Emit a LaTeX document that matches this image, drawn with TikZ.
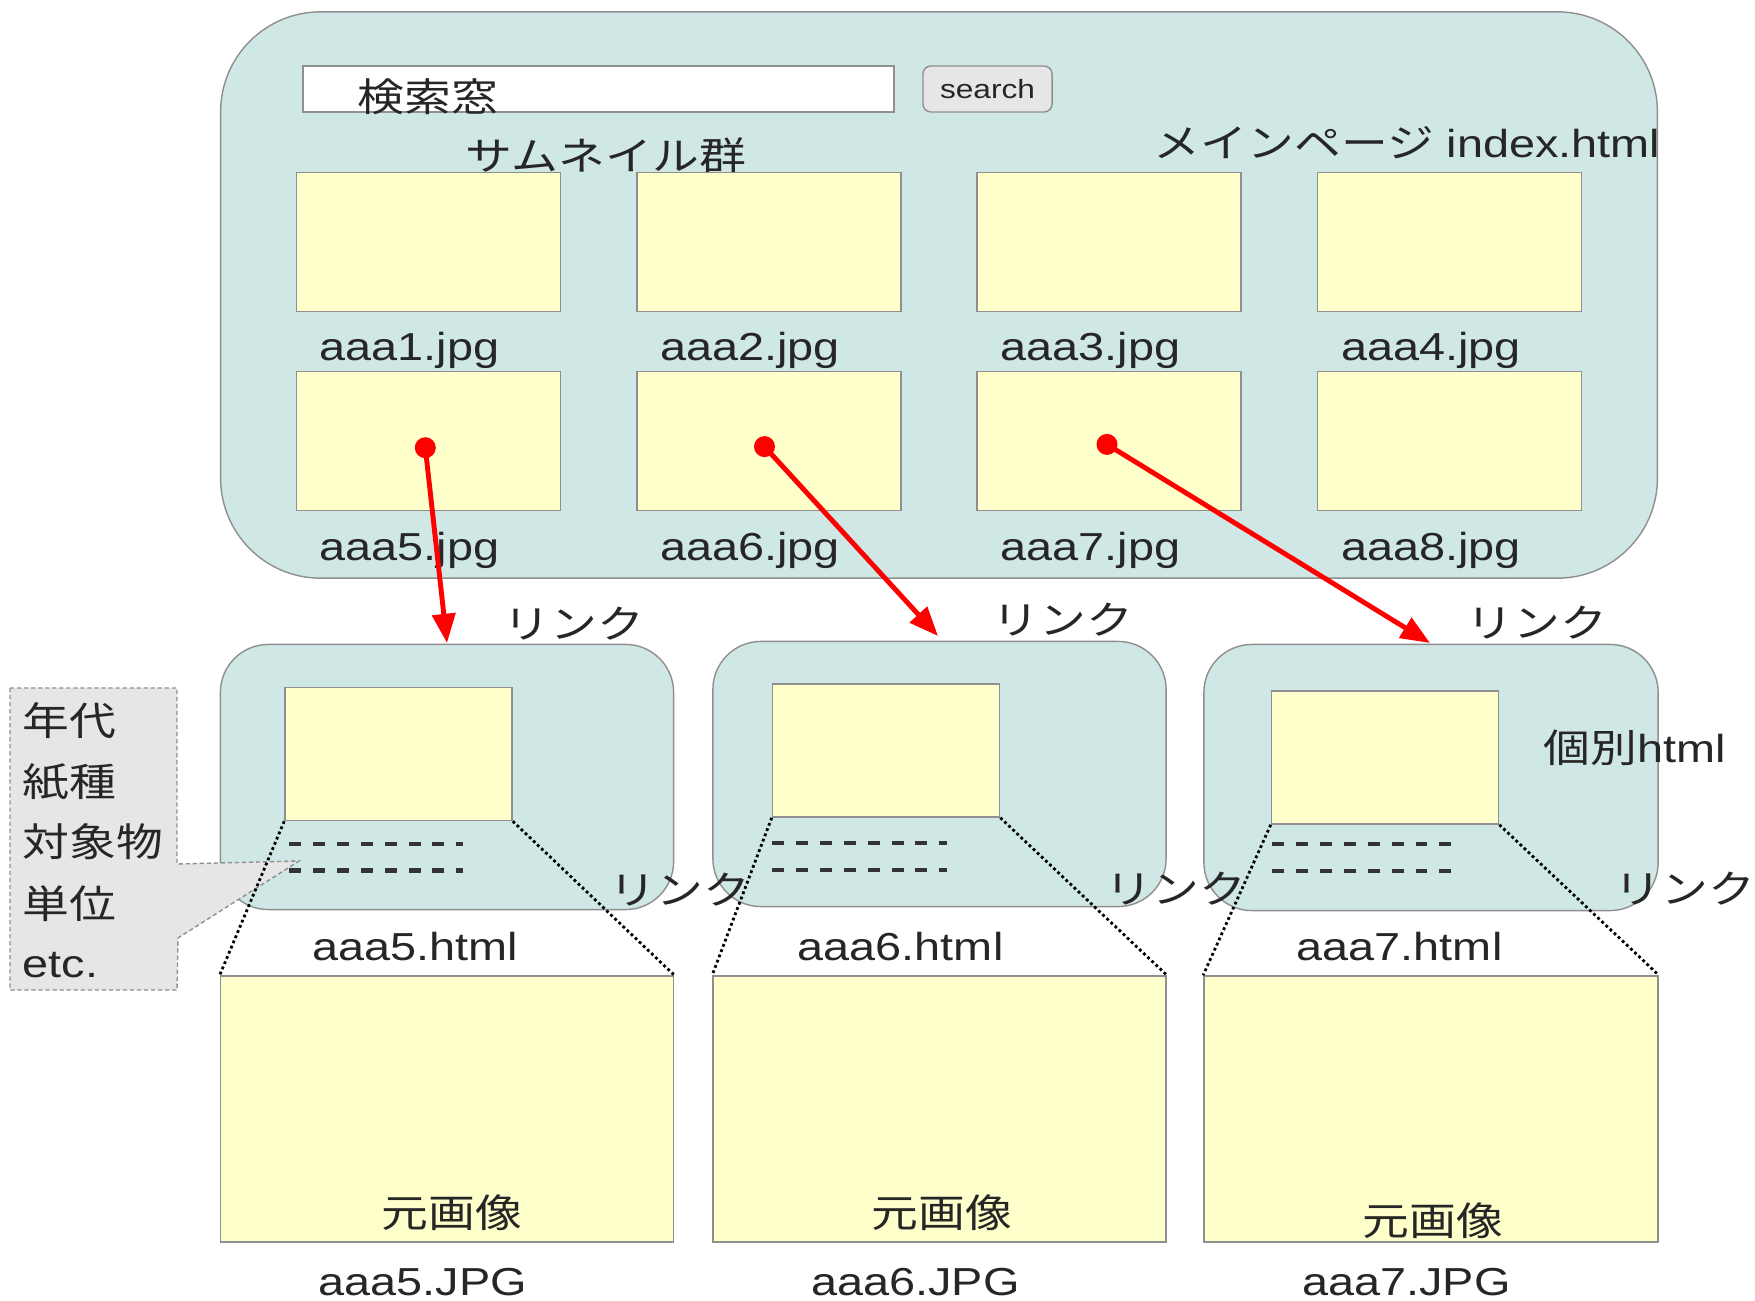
\documentclass[tikz,border=0pt]{standalone}
\usepackage{fontspec}
\setmainfont[FakeStretch=1.2]{Liberation Sans}
\newfontfamily\jp[FakeStretch=1.2]{Noto Sans CJK JP}
\usetikzlibrary{arrows.meta}
\definecolor{panelteal}{HTML}{CFE7E5}
\definecolor{thumbyel}{HTML}{FFFFCC}
\definecolor{edgegray}{HTML}{8F8F8F}
\definecolor{txtgray}{HTML}{262626}
\definecolor{calloutgray}{HTML}{E6E6E6}
\definecolor{dashdark}{HTML}{333333}
\begin{document}
\begin{tikzpicture}[x=0.01cm, y=-0.01cm,
  panel/.style={draw=edgegray, fill=panelteal, line width=0.4pt, inner sep=0pt, rectangle},
  thumb/.style={draw=edgegray, fill=thumbyel, line width=0.4pt, inner sep=0pt, rectangle},
  smallthumb/.style={thumb, minimum width=2.64cm, minimum height=1.39cm},
  lat/.style={text=txtgray, inner sep=0pt, font=\fontsize{11.1}{13}\selectfont},
  jpn/.style={text=txtgray, inner sep=0pt, font=\jp\fontsize{11.1}{13}\selectfont},
  reddot/.style={circle, fill=red, inner sep=0pt, minimum size=0.21cm},
  redlink/.style={draw=red, line width=1.4pt, -{Triangle[length=8.3pt,width=6.5pt]}},
  zoomline/.style={draw=black, line width=0.8pt, dash pattern=on 0.8pt off 0.8pt},
  textline/.style={draw=dashdark, line width=1.4pt, dash pattern=on 3.4pt off 3.4pt},
  calloutbox/.style={draw=edgegray, fill=calloutgray, line width=0.4pt, dash pattern=on 1.2pt off 0.8pt}
]
\useasboundingbox (0,0) rectangle (1755,1300);

% ---------- main page ----------
\node[panel, rounded corners=1cm, minimum width=14.36cm, minimum height=5.66cm] (main) at (939,295) {};
\node[draw=edgegray, fill=white, line width=0.4pt, inner sep=0pt, minimum width=5.91cm, minimum height=0.46cm] (field) at (598.5,89) {};
\node[draw=edgegray, fill=calloutgray, line width=0.4pt, rounded corners=0.08cm, inner sep=0pt,
      minimum width=1.29cm, minimum height=0.46cm, text=txtgray, font=\fontsize{7.5}{9}\selectfont] (search) at (987.5,89) {search};
\node[jpn] (fieldlbl) at (428,97) {検索窓};
\node[jpn] (thumbslbl) at (606,156) {サムネイル群};
\node[lat, anchor=base west] (mainlbl) at (1153,157) {{\jp メインページ} index.html};

% thumbnails
\node[smallthumb] (t1) at (428.7,241.8) {};
\node[smallthumb] (t2) at (769,241.8) {};
\node[smallthumb] (t3) at (1109,241.8) {};
\node[smallthumb] (t4) at (1449.5,241.8) {};
\node[smallthumb] (t5) at (428.7,441) {};
\node[smallthumb] (t6) at (769,441) {};
\node[smallthumb] (t7) at (1109,441) {};
\node[smallthumb] (t8) at (1449.5,441) {};
\node[lat, anchor=base west] (l1) at (319,360) {aaa1.jpg};
\node[lat, anchor=base west] (l2) at (659.5,360) {aaa2.jpg};
\node[lat, anchor=base west] (l3) at (1000,360) {aaa3.jpg};
\node[lat, anchor=base west] (l4) at (1340.5,360) {aaa4.jpg};
\node[lat, anchor=base west] (l5) at (319,560) {aaa5.jpg};
\node[lat, anchor=base west] (l6) at (659.5,560) {aaa6.jpg};
\node[lat, anchor=base west] (l7) at (1000,560) {aaa7.jpg};
\node[lat, anchor=base west] (l8) at (1340.5,560) {aaa8.jpg};

% ---------- individual pages ----------
\node[panel, rounded corners=0.48cm, minimum width=4.53cm, minimum height=2.65cm] (pA) at (447,777) {};
\node[panel, rounded corners=0.48cm, minimum width=4.53cm, minimum height=2.65cm] (pB) at (939.5,774) {};
\node[panel, rounded corners=0.48cm, minimum width=4.54cm, minimum height=2.66cm] (pC) at (1431,777.5) {};

\node[thumb, minimum width=2.27cm, minimum height=1.33cm] (iA) at (398.5,754) {};
\node[thumb, minimum width=2.27cm, minimum height=1.33cm] (iB) at (886,750.5) {};
\node[thumb, minimum width=2.27cm, minimum height=1.33cm] (iC) at (1385,757.5) {};

\draw[textline] (289,844) -- (463,844);
\draw[textline] (289,870.5) -- (463,870.5);
\draw[textline] (772,843) -- (947,843);
\draw[textline] (772,870) -- (947,870);
\draw[textline] (1272,844) -- (1452,844);
\draw[textline] (1272,871) -- (1452,871);

% callout
\draw[calloutbox] (10,688) -- (177,688) -- (177,864) -- (299,861) -- (178,938) -- (177,990) -- (10,990) -- cycle;
\node[jpn, anchor=west] (c1) at (22,721) {年代};
\node[jpn, anchor=west] (c2) at (22,782) {紙種};
\node[jpn, anchor=west] (c3) at (22,842) {対象物};
\node[jpn, anchor=west] (c4) at (22,904) {単位};
\node[lat, anchor=base west] (c5) at (22,977) {etc.};

% originals
\node[thumb, minimum width=4.53cm, minimum height=2.66cm] (bA) at (447,1109) {};
\node[thumb, minimum width=4.53cm, minimum height=2.66cm] (bB) at (939.5,1109) {};
\node[thumb, minimum width=4.54cm, minimum height=2.66cm] (bC) at (1431,1109) {};

\draw[zoomline] (iA.south west) -- (bA.north west);
\draw[zoomline] (iA.south east) -- (bA.north east);
\draw[zoomline] (iB.south west) -- (bB.north west);
\draw[zoomline] (iB.south east) -- (bB.north east);
\draw[zoomline] (iC.south west) -- (bC.north west);
\draw[zoomline] (iC.south east) -- (bC.north east);

\node[lat, anchor=base west] (hA) at (312,960) {aaa5.html};
\node[lat, anchor=base west] (hB) at (797,960) {aaa6.html};
\node[lat, anchor=base west] (hC) at (1296,960) {aaa7.html};

\node[jpn] (oA) at (452,1213) {元画像};
\node[jpn] (oB) at (942,1213) {元画像};
\node[jpn] (oC) at (1433,1221) {元画像};

\node[lat, anchor=base west] (jA) at (318,1295) {aaa5.JPG};
\node[lat, anchor=base west] (jB) at (810.5,1295) {aaa6.JPG};
\node[lat, anchor=base west] (jC) at (1301.5,1295) {aaa7.JPG};

\node[jpn] (kA) at (574,624) {リンク};
\node[jpn] (kB) at (1063,620) {リンク};
\node[jpn] (kC) at (1537,623) {リンク};
\node[jpn] (rA) at (680,890) {リンク};
\node[jpn] (rB) at (1176,889) {リンク};
\node[jpn] (rC) at (1685,889) {リンク};
\node[lat, anchor=base west] (indiv) at (1543,762) {{\jp 個別}html};

% ---------- links ----------
\node[reddot] (d5) at (425.3,447.7) {};
\node[reddot] (d6) at (764.5,446.6) {};
\node[reddot] (d7) at (1107,444.4) {};
\coordinate (e5) at (447,643);
\coordinate (e6) at (938,636);
\coordinate (e7) at (1430,643);
\draw[redlink] (d5.center) -- (e5);
\draw[redlink] (d6.center) -- (e6);
\draw[redlink] (d7.center) -- (e7);
\end{tikzpicture}
\end{document}
